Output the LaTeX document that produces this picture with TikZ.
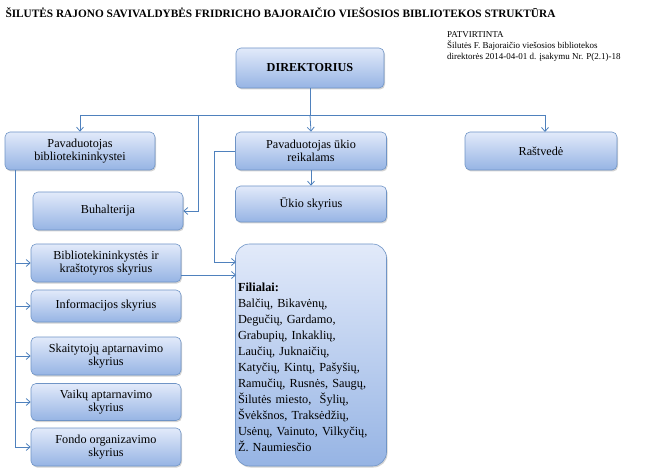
\documentclass[tikz,border=0pt]{standalone}
\usepackage{fontspec}
\setmainfont{Liberation Serif}
\usetikzlibrary{arrows.meta,shadows}
\definecolor{c4f81bd}{RGB}{79,129,189}
\definecolor{c6f94c6}{RGB}{111,148,198}
\definecolor{cdce7f7}{RGB}{226,234,250}
\definecolor{c9db9e6}{RGB}{150,180,228}
\tikzset{
  unit/.style={draw=c6f94c6,line width=0.6pt,rounded corners=5pt,top color=cdce7f7,bottom color=c9db9e6,
    drop shadow={shadow xshift=1pt,shadow yshift=-1.5pt,opacity=0.35},align=center,
    font=\fontsize{12.2}{13.5}\selectfont,inner sep=2pt},
  link/.style={draw=c4f81bd,line width=0.8pt,-{Straight Barb[length=4pt,width=7pt]}},
  wire/.style={draw=c4f81bd,line width=0.8pt}
}
\begin{document}
\begin{tikzpicture}[x=1pt,y=-1pt]
  \useasboundingbox (0,0) rectangle (650,470);

  \node[anchor=west,font=\bfseries\fontsize{11.3}{13}\selectfont] (title) at (2,13){ŠILUTĖS RAJONO SAVIVALDYBĖS FRIDRICHO BAJORAIČIO VIEŠOSIOS BIBLIOTEKOS STRUKTŪRA};
  \node[anchor=north west,align=left,font=\fontsize{9}{11}\selectfont,inner sep=0pt] (approve) at (447,31){PATVIRTINTA\\Šilutės F. Bajoraičio viešosios bibliotekos\\direktorės 2014-04-01 d. įsakymu Nr. P(2.1)-18};

  \node[unit,minimum width=148,minimum height=40,font=\bfseries\fontsize{12.2}{13.5}\selectfont] (director) at (310,68){DIREKTORIUS};
  \node[unit,minimum width=150,minimum height=38] (deplib) at (80,151){Pavaduotojas\\bibliotekininkystei};
  \node[unit,minimum width=151,minimum height=38] (depeco) at (311,151){Pavaduotojas ūkio\\reikalams};
  \node[unit,minimum width=152,minimum height=38] (clerk) at (541,151){Raštvedė};
  \node[unit,minimum width=150,minimum height=38] (account) at (108,211){Buhalterija};
  \node[unit,minimum width=151,minimum height=36] (ecodept) at (311,204){Ūkio skyrius};
  \node[unit,minimum width=150,minimum height=38] (localdept) at (106,263){Bibliotekininkystės ir\\kraštotyros skyrius};
  \node[unit,minimum width=150,minimum height=32] (infodept) at (106,306){Informacijos skyrius};
  \node[unit,minimum width=150,minimum height=38] (readdept) at (106,356){Skaitytojų aptarnavimo\\skyrius};
  \node[unit,minimum width=150,minimum height=37] (kiddept) at (106,402){Vaikų aptarnavimo\\skyrius};
  \node[unit,minimum width=150,minimum height=38] (funddept) at (106,447){Fondo organizavimo\\skyrius};
  \node[unit,rounded corners=14pt,minimum width=151,minimum height=222,text width=146,align=left,
    font=\fontsize{12.3}{16}\selectfont] (branches) at (311,355){\rule{0pt}{34pt}\textbf{Filialai:}\\Balčių, Bikavėnų,\\Degučių, Gardamo,\\Grabupių, Inkaklių,\\Laučių, Juknaičių,\\Katyčių, Kintų, Pašyšių,\\Ramučių, Rusnės, Saugų,\\Šilutės miesto, \ Šylių,\\Švėkšnos, Traksėdžių,\\Usėnų, Vainuto, Vilkyčių,\\Ž. Naumiesčio};

  \coordinate (bus) at (310,115);
  \draw[wire] (director.south) -- (bus);
  \draw[wire] (80,115) -- (545,115);
  \draw[link] (80,115) -- (deplib.north);
  \draw[link] (bus) -- (depeco.north);
  \draw[link] (545,115) -- (545,132);
  \draw[link] (198,115) |- (account.east);
  \draw[link] (depeco.south) -- (ecodept.north);
  \draw[link] (depeco.west) -- (214,151) |- (236,262);
  \draw[link] (localdept.east |- 0,275) -- (236,275);

  \draw[wire] (15,170) -- (15,447);
  \foreach \dept in {localdept,infodept,readdept,kiddept,funddept}
    \draw[link] (15,0 |- \dept.west) -- (\dept.west);
\end{tikzpicture}
\end{document}
